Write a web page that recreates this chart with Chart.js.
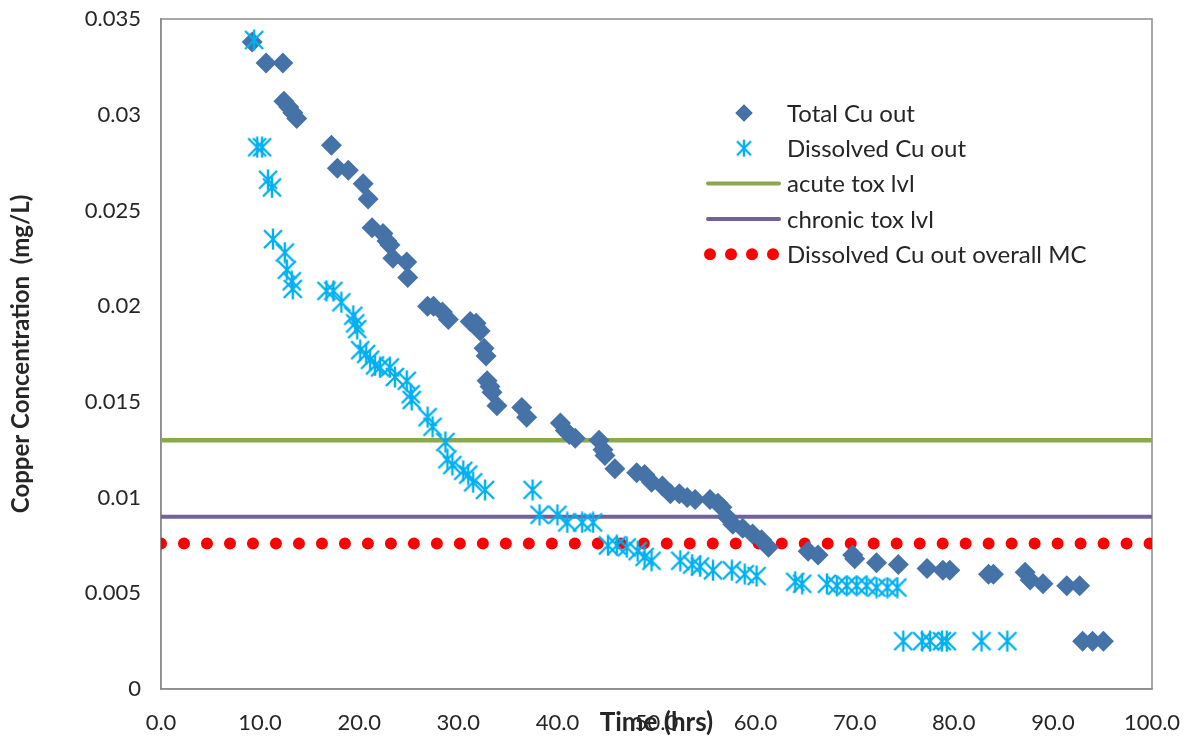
<!DOCTYPE html>
<html>
<head>
<meta charset="utf-8">
<title>Copper Concentration</title>
<script src="https://cdn.jsdelivr.net/npm/chart.js@4.4.1/dist/chart.umd.min.js"></script>
<style>
  html, body { margin: 0; padding: 0; background: #fff; }
  #wrap { width: 1202px; height: 742px; }
</style>
</head>
<body>
<div id="wrap"><canvas id="chart" width="1202" height="742"></canvas></div>
<script>
// ── Data ─────────────────────────────────────────────────────
const totalX = [9.2, 10.6, 12.3, 12.4, 12.9, 13.3, 13.7, 17.2, 17.8, 18.9, 20.4, 20.9, 21.3, 22.4, 22.8,
  23.1, 23.4, 24.8, 24.9, 26.9, 27.5, 28.4, 29.0, 31.2, 31.8, 32.2, 32.6, 32.8, 32.9, 33.2, 33.4, 33.9,
  36.4, 36.9, 40.3, 40.8, 41.2, 41.8, 44.2, 44.6, 44.8, 45.8, 48.0, 48.8, 49.5, 50.6, 51.4, 52.3, 53.1,
  53.9, 55.4, 56.2, 56.6, 57.1, 57.7, 58.7, 59.7, 60.6, 61.3, 65.3, 66.3, 69.8, 70.0, 72.2, 74.4, 77.3,
  78.9, 79.6, 83.5, 84.0, 87.2, 87.7, 89.0, 91.4, 92.7, 93.0, 94.0, 95.1];
const totalY = [0.0338, 0.0327, 0.0327, 0.0307, 0.0304, 0.0301, 0.0298, 0.0284, 0.0272, 0.0271, 0.0264,
  0.0256, 0.0241, 0.0238, 0.0234, 0.0232, 0.0225, 0.0223, 0.0215, 0.0200, 0.0200, 0.0197, 0.0193, 0.0192,
  0.0191, 0.0187, 0.0178, 0.0174, 0.0161, 0.0158, 0.0155, 0.0148, 0.0147, 0.0142, 0.0139, 0.0135, 0.0133,
  0.0131, 0.0130, 0.0125, 0.0122, 0.0115, 0.0113, 0.0112, 0.0108, 0.0106, 0.0102, 0.0102, 0.0100, 0.0099,
  0.0099, 0.0097, 0.0095, 0.0090, 0.0086, 0.0084, 0.0081, 0.0078, 0.0074, 0.0072, 0.0070, 0.0070, 0.0068,
  0.0066, 0.0065, 0.0063, 0.0062, 0.0062, 0.0060, 0.0060, 0.0061, 0.0057, 0.0055, 0.0054, 0.0054, 0.0025,
  0.0025, 0.0025];

const dissolvedX = [9.4, 9.7, 10.2, 10.8, 11.2, 11.3, 12.5, 12.7, 13.2, 13.3, 16.7, 17.4, 18.2, 19.4, 19.6,
  19.8, 20.1, 20.7, 21.1, 21.6, 22.1, 23.1, 23.6, 24.8, 25.2, 25.3, 26.9, 27.4, 28.7, 28.9, 29.4, 30.5,
  31.0, 31.5, 32.7, 37.5, 38.2, 40.0, 41.0, 42.5, 43.6, 45.1, 46.0, 47.0, 48.1, 48.8, 49.5, 52.4, 53.6,
  54.4, 55.7, 57.6, 58.9, 60.1, 64.0, 64.7, 67.2, 68.2, 69.2, 70.2, 71.2, 72.2, 73.3, 74.3, 74.9, 76.8,
  77.6, 78.8, 79.3, 82.8, 85.4];
const dissolvedY = [0.0339, 0.0283, 0.0283, 0.0266, 0.0262, 0.0235, 0.0228, 0.0219, 0.0213, 0.0209, 0.0208,
  0.0208, 0.0202, 0.0195, 0.0191, 0.0188, 0.0177, 0.0175, 0.0172, 0.0169, 0.0168, 0.0168, 0.0163, 0.0161,
  0.0154, 0.0151, 0.0142, 0.0137, 0.0129, 0.0120, 0.0117, 0.0114, 0.0112, 0.0108, 0.0104, 0.0104, 0.0091,
  0.0091, 0.0087, 0.0087, 0.0087, 0.0075, 0.0075, 0.0074, 0.0072, 0.0069, 0.0067, 0.0067, 0.0065, 0.0064,
  0.0062, 0.0062, 0.0060, 0.0059, 0.0056, 0.0055, 0.0055, 0.0054, 0.0054, 0.0054, 0.0054, 0.0053, 0.0053,
  0.0053, 0.0025, 0.0025, 0.0025, 0.0025, 0.0025, 0.0025, 0.0025];

const levelX = [0, 100];
const acuteLevel = 0.013;
const chronicLevel = 0.009;
const overallMC = 0.0076;

const seriesLabels = ['Total Cu out', 'Dissolved Cu out', 'acute tox lvl', 'chronic tox lvl', 'Dissolved Cu out overall MC'];
const xTickLabels = ['0.0', '10.0', '20.0', '30.0', '40.0', '50.0', '60.0', '70.0', '80.0', '90.0', '100.0'];
const yTickLabels = ['0', '0.005', '0.01', '0.015', '0.02', '0.025', '0.03', '0.035'];

const FONT = "'Lato', 'Open Sans', sans-serif";
const COLORS = {
  total: '#4572A7',
  dissolved: '#00B0F0',
  acute: '#8AA84E',
  chronic: '#73609E',
  mc: '#FF0000',
  axis: '#8C8C8C',
  text: '#262626'
};

const pts = (xs, ys) => xs.map((x, i) => ({ x, y: ys[i] }));
const flat = v => levelX.map(x => ({ x, y: v }));

// asterisk marker: an X with a vertical stroke (Excel "star")
function makeAsterisk(size, color) {
  const c = document.createElement('canvas');
  c.width = size; c.height = size;
  const g = c.getContext('2d');
  const p = 2;
  g.strokeStyle = color;
  g.lineWidth = 2.4;
  g.beginPath();
  g.moveTo(p, p); g.lineTo(size - p, size - p);
  g.moveTo(size - p, p); g.lineTo(p, size - p);
  g.moveTo(size / 2, 0.5); g.lineTo(size / 2, size - 0.5);
  g.stroke();
  return c;
}
const asterisk = makeAsterisk(22, COLORS.dissolved);
const asteriskSmall = makeAsterisk(18, COLORS.dissolved);

// ── Legend drawn inside the plot area ────────────────────────
const insideLegend = {
  id: 'insideLegend',
  afterDatasetsDraw(chart) {
    const { ctx, chartArea: a } = chart;
    const mx = a.left + 583, lx0 = a.left + 547, lx1 = a.left + 618, tx = a.left + 626;
    const y0 = a.top + 94, dy = 35.3;
    ctx.save();
    ctx.font = '24px ' + FONT;
    ctx.fillStyle = COLORS.text;
    ctx.textBaseline = 'middle';
    chart.data.datasets.forEach((ds, i) => {
      const y = y0 + i * dy;
      if (i === 0) {
        Chart.helpers.drawPoint(ctx, { pointStyle: 'rectRot', radius: 8.5, borderWidth: 0 }, mx, y);
        ctx.fillStyle = COLORS.total; ctx.fill(); ctx.fillStyle = COLORS.text;
      } else if (i === 1) {
        ctx.drawImage(asteriskSmall, mx - 9, y - 9);
      } else if (i === 4) {
        ctx.beginPath();
        for (let k = 0; k < 4; k++) {
          ctx.moveTo(lx0 + 8 + k * 21, y);
          ctx.arc(lx0 + 2 + k * 21, y, 6, 0, Math.PI * 2);
        }
        ctx.fillStyle = COLORS.mc; ctx.fill(); ctx.fillStyle = COLORS.text;
      } else {
        ctx.beginPath();
        ctx.moveTo(lx0, y); ctx.lineTo(lx1, y);
        ctx.strokeStyle = ds.borderColor; ctx.lineWidth = 4; ctx.lineCap = 'round';
        ctx.stroke();
      }
      ctx.fillText(ds.label, tx, y + 1);
    });
    ctx.restore();
  }
};

// ── Plot area frame (all four sides) ─────────────────────────
const plotFrame = {
  id: 'plotFrame',
  beforeDatasetsDraw(chart) {
    const { ctx, chartArea: a } = chart;
    ctx.save();
    ctx.strokeStyle = COLORS.axis;
    ctx.lineWidth = 1.5;
    ctx.strokeRect(a.left, a.top, a.right - a.left, a.bottom - a.top);
    ctx.restore();
  }
};

new Chart(document.getElementById('chart'), {
  type: 'scatter',
  data: {
    datasets: [
      {
        label: seriesLabels[0],
        data: pts(totalX, totalY),
        pointStyle: 'rectRot',
        pointRadius: 10.5,
        pointBorderWidth: 0,
        backgroundColor: COLORS.total,
        borderColor: COLORS.total,
        order: 2
      },
      {
        label: seriesLabels[1],
        data: pts(dissolvedX, dissolvedY),
        pointStyle: asterisk,
        pointRadius: 11,
        backgroundColor: COLORS.dissolved,
        borderColor: COLORS.dissolved,
        order: 1
      },
      {
        label: seriesLabels[2],
        data: flat(acuteLevel),
        showLine: true,
        pointRadius: 0,
        borderColor: COLORS.acute,
        borderWidth: 4.5,
        order: 5
      },
      {
        label: seriesLabels[3],
        data: flat(chronicLevel),
        showLine: true,
        pointRadius: 0,
        borderColor: COLORS.chronic,
        borderWidth: 4,
        order: 4
      },
      {
        label: seriesLabels[4],
        data: flat(overallMC),
        showLine: true,
        pointRadius: 0,
        borderColor: COLORS.mc,
        borderWidth: 12,
        borderCapStyle: 'round',
        borderDash: [0.01, 22.98],
        order: 3
      }
    ]
  },
  options: {
    responsive: false,
    animation: false,
    layout: { padding: { top: 19, right: 50, bottom: 0, left: 0 } },
    plugins: {
      legend: { display: false },
      tooltip: { enabled: false }
    },
    scales: {
      x: {
        type: 'linear',
        min: 0,
        max: 100,
        ticks: {
          stepSize: 10,
          padding: 21,
          color: COLORS.text,
          font: { family: FONT, size: 22 },
          callback: (v, i) => xTickLabels[i]
        },
        grid: { display: false, drawTicks: false },
        border: { display: true, color: COLORS.axis, width: 1.5 },
        title: {
          display: true,
          text: 'Time (hrs)',
          color: COLORS.text,
          font: { family: FONT, size: 26, weight: 'bold' },
          padding: { top: 0, bottom: 4 }
        },
        afterFit: s => { s.height = 53; s.paddingLeft = 0; s.paddingRight = 0; }
      },
      y: {
        type: 'linear',
        min: 0,
        max: 0.035,
        ticks: {
          stepSize: 0.005,
          padding: 20,
          color: COLORS.text,
          font: { family: FONT, size: 22 },
          callback: (v, i) => yTickLabels[i]
        },
        grid: { display: false, drawTicks: false },
        border: { display: true, color: COLORS.axis, width: 1.5 },
        title: {
          display: true,
          text: 'Copper Concentration  (mg/L)',
          color: COLORS.text,
          font: { family: FONT, size: 24, weight: 'bold' },
          padding: { top: 7, bottom: 0 }
        },
        afterFit: s => { s.width = 161; s.paddingTop = 0; s.paddingBottom = 0; }
      }
    }
  },
  plugins: [plotFrame, insideLegend]
});
</script>
</body>
</html>
